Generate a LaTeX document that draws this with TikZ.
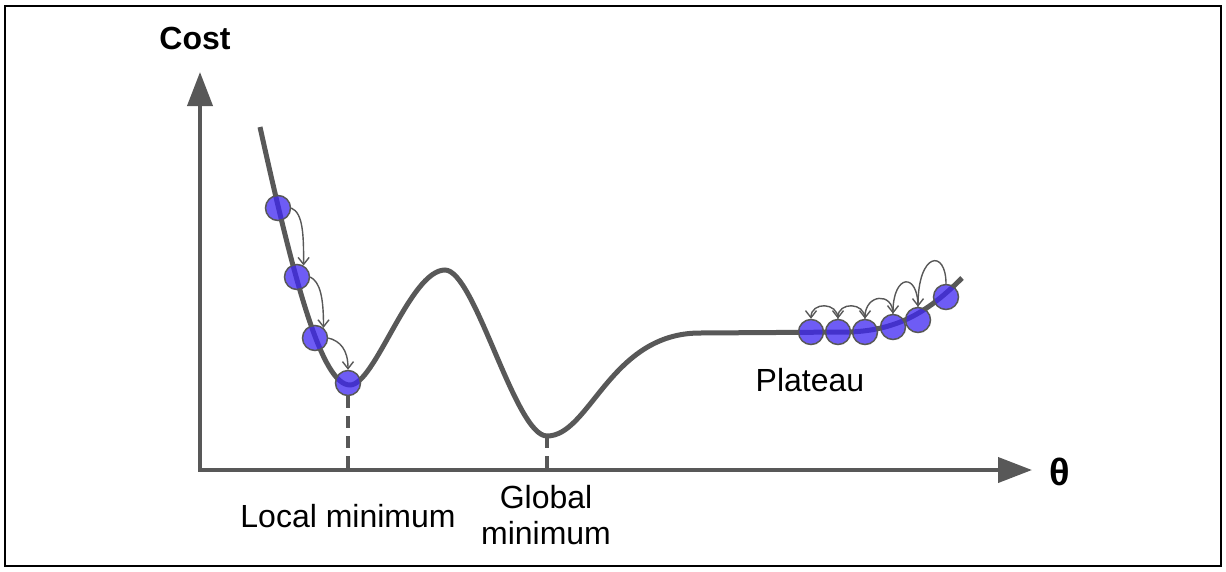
\documentclass[tikz,border=0pt]{standalone}
\usepackage{fontspec}
\setmainfont{Liberation Sans}
\usetikzlibrary{arrows.meta}
\definecolor{curvegray}{RGB}{88,88,88}
\definecolor{ballblue}{RGB}{62,38,242}

\begin{document}
\begin{tikzpicture}[x=1pt,y=-1pt,
  every node/.style={font=\fontsize{32}{36}\selectfont},
  ball/.style={circle,minimum size=25pt,inner sep=0pt,fill=ballblue,fill opacity=0.75,
    draw=curvegray,line width=1.5pt},
  hop/.style={draw=curvegray,line width=1.4pt,-{Straight Barb[length=7pt,width=11pt]}},
  axis/.style={draw=curvegray,line width=4pt,
    {Triangle[length=34pt,width=25pt]}-{Triangle[length=34pt,width=25pt]}},
  guide/.style={draw=curvegray,line width=3.5pt,dash pattern=on 12pt off 8pt}]
\useasboundingbox (0,0) rectangle (1226,571);
\draw[line width=1.5pt] (5,6) rectangle (1221,566);

% axes
\coordinate (O) at (200,470);
\coordinate (ytip) at (200,72);
\coordinate (xtip) at (1032,470);
\draw[axis] (ytip) |- (xtip);
\node[font=\fontsize{32}{36}\selectfont\bfseries] (cost) at (195,38) {Cost};
\node[font=\fontsize{38}{40}\selectfont\bfseries] (theta) at (1060,472) {θ};

% cost curve
\coordinate (gmin) at (547,436);
\draw[curvegray,line width=5pt]
  (260,127) .. controls (295,285) and (322,385) .. (350,385)
  .. controls (375,385) and (410,270) .. (445,270)
  .. controls (475,270) and (515,436) .. (gmin)
  .. controls (590,436) and (610,333) .. (700,333)
  -- (850,332) .. controls (900,330) and (930,310) .. (962,278);

% balls
\node[ball] (b1) at (278,208) {};
\node[ball] (b2) at (297,277) {};
\node[ball] (b3) at (315,338) {};
\node[ball] (b4) at (348,383) {};
\node[ball] (r1) at (811,332) {};
\node[ball] (r2) at (838,332) {};
\node[ball] (r3) at (865,332) {};
\node[ball] (r4) at (893,327) {};
\node[ball] (r5) at (918,320) {};
\node[ball] (r6) at (946,297) {};

\draw[hop] (b1.east) .. controls +(12,5) and +(0,-30) .. (b2.60);
\draw[hop] (b2.east) .. controls +(10,5) and +(0,-30) .. (b3.50);
\draw[hop] (b3.east) .. controls +(12,3) and +(0,-20) .. (b4.north);
\draw[hop] (r6.north) .. controls +(0,-35) and +(0,-55) .. (r5.north);
\draw[hop] (r5.north) .. controls +(0,-35) and +(0,-40) .. (r4.north);
\draw[hop] (r4.north) .. controls +(0,-22) and +(0,-25) .. (r3.north);
\draw[hop] (r3.north) .. controls +(0,-17) and +(0,-17) .. (r2.north);
\draw[hop] (r2.north) .. controls +(0,-17) and +(0,-17) .. (r1.north);

% minima
\draw[guide] (b4.south) -- (b4 |- O);
\draw[guide] (gmin) -- (gmin |- O);
\node (local) at (348,516) {Local minimum};
\node[align=center] (global) at (546,515) {Global\\minimum};
\node (plateau) at (810,380) {Plateau};
\end{tikzpicture}
\end{document}
